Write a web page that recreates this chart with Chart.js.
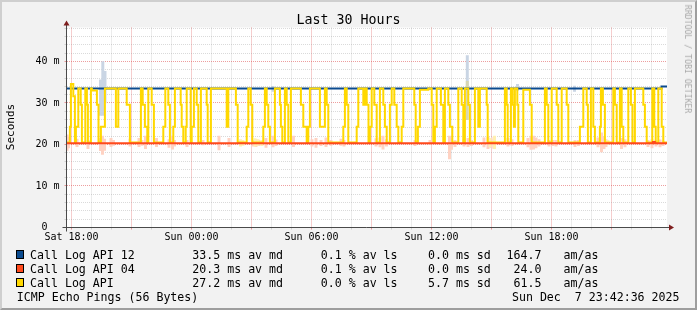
<!DOCTYPE html>
<html>
<head>
<meta charset="utf-8">
<script src="https://cdn.jsdelivr.net/npm/chart.js@4/dist/chart.umd.min.js"></script>
<style>
  html,body{margin:0;padding:0;background:#f2f2f2;}
  #frame{position:absolute;left:0;top:0;width:697px;height:310px;box-sizing:border-box;
    border-style:solid;border-width:2px;border-color:#cfcfcf #9e9e9e #9e9e9e #cfcfcf;background:#f2f2f2;}
  #c{position:absolute;left:0;top:0;}
  .t{position:absolute;font-family:'DejaVu Sans Mono',monospace;color:#000;white-space:pre;line-height:14px;}
  .lg{font-size:11.6px;}
  .sw{position:absolute;width:8px;height:9px;box-sizing:border-box;border:1px solid #000;}
</style>
</head>
<body>
<div id="frame"></div>
<canvas id="c" width="697" height="310"></canvas>
<div id="overlay"></div>
<script>
// ---------- data ----------
const titleText = 'Last 30 Hours';
const yAxisTitle = 'Seconds';
const watermark = 'RRDTOOL / TOBI OETIKER';
// x in hours since Sat 18:00
const xMin = -0.25, xMax = 29.775;
const xLabelHours = [0, 6, 12, 18, 24];
const xLabelTexts = ['Sat 18:00', 'Sun 00:00', 'Sun 06:00', 'Sun 12:00', 'Sun 18:00'];
const yMax = 48.19;
const yLabelValues = [0, 10, 20, 30, 40];
const yLabelTexts = ['0  ', '10 m', '20 m', '30 m', '40 m'];

const seriesNames = ['Call Log API 12', 'Call Log API 04', 'Call Log API'];
const seriesColors = ['#0b4a8e', '#ff4a1c', '#ffd800'];
const medians = ['33.5', '20.3', '27.2'];
const losses = ['0.1', '0.1', '0.0'];
const stddevs = ['0.0', '0.0', '5.7'];
const amas = ['164.7', '24.0', '61.5'];
const footLeft = 'ICMP Echo Pings (56 Bytes)';
const footRight = 'Sun Dec  7 23:42:36 2025';

// median steps [hour, ms]
const blueSteps = [[-0.25, 33.5], [29.5, 34.0], [29.775, 34.0]];
const redSteps = [[-0.25, 20.3], [29.07, 20.6], [29.17, 20.3], [29.775, 20.3]];
const yellowSteps = [
 [-0.25,20.5],[-0.08,24.3],[-0.03,34.6],[0.09,31.6],[0.17,20.5],[0.22,24.3],[0.34,33.5],[0.46,29.6],[0.52,20.5],
 [0.69,33.5],[0.77,29.6],[0.82,20.5],[0.97,33.5],[1.02,33.0],[1.27,29.6],[1.35,20.5],[1.47,24.3],[1.67,33.5],
 [2.22,24.3],[2.34,33.5],[2.76,29.6],[2.92,20.5],[3.47,33.5],[3.56,29.6],[3.67,24.3],[3.79,20.5],[3.84,33.5],
 [4.01,29.6],[4.12,20.5],[4.59,24.3],[4.69,33.5],[4.84,29.6],[4.92,20.5],[5.09,24.3],[5.17,33.5],[5.46,29.6],
 [5.51,24.3],[5.59,20.5],[5.71,24.3],[5.76,33.5],[5.96,20.5],[6.01,24.3],[6.12,33.5],[6.26,29.6],[6.34,20.5],
 [6.47,33.5],[6.76,29.6],[6.81,20.5],[6.97,33.5],[7.76,24.3],[7.84,33.5],[8.22,29.6],[8.31,20.5],[8.76,24.3],
 [8.84,33.5],[8.96,29.6],[9.04,20.5],[9.59,24.3],[9.67,33.5],[9.76,29.6],[9.84,24.3],[9.92,20.5],[10.17,33.5],
 [10.42,29.6],[10.47,24.3],[10.54,20.5],[10.67,33.5],[10.76,29.6],[10.84,20.5],[10.97,33.5],[11.47,29.6],
 [11.59,24.3],[11.76,20.5],[11.84,24.3],[11.92,33.5],[12.42,24.3],[12.67,33.5],[12.76,29.6],[12.84,20.5],
 [13.59,24.3],[13.67,33.5],[13.76,29.6],[13.84,20.5],[14.26,24.3],[14.34,33.5],[14.59,29.6],[14.67,33.5],
 [14.76,29.6],[14.85,20.5],[14.92,24.3],[15.01,33.5],[15.14,29.6],[15.26,20.5],[15.42,33.5],[15.59,29.6],
 [15.67,24.3],[15.76,20.5],[15.92,29.6],[16.01,33.5],[16.14,29.6],[16.26,24.3],[16.34,20.5],[16.51,24.3],
 [16.59,33.5],[17.14,29.6],[17.21,20.5],[17.32,24.3],[17.42,33.2],[17.84,33.5],[18.01,29.6],[18.09,20.5],
 [18.17,24.3],[18.26,33.5],[18.47,29.6],[18.59,20.5],[18.67,33.5],[18.84,29.6],[18.92,24.3],[19.04,20.5],
 [19.34,33.5],[19.51,29.6],[19.59,20.5],[19.67,33.5],[19.84,29.6],[19.92,20.5],[20.17,33.5],[20.34,24.3],
 [20.42,33.5],[20.76,29.6],[20.81,20.5],[21.67,33.5],[21.76,29.6],[21.81,20.5],[21.97,33.5],[22.06,29.6],
 [22.12,24.3],[22.17,33.5],[22.29,29.6],[22.34,20.5],[22.59,33.2],[22.92,29.6],[23.01,20.5],[23.67,33.5],
 [23.76,29.6],[23.84,20.5],[24.01,33.5],[24.26,29.6],[24.34,20.5],[24.51,33.5],[24.76,29.6],[24.84,20.5],
 [25.42,24.3],[25.59,33.5],[25.76,29.6],[25.82,20.5],[25.97,33.5],[26.09,24.3],[26.17,20.5],[26.42,24.3],
 [26.47,33.5],[26.57,29.6],[26.67,20.5],[27.09,33.5],[27.17,29.6],[27.26,20.5],[27.42,33.5],[27.51,24.3],
 [27.59,20.5],[27.84,33.5],[27.97,29.6],[28.05,20.5],[28.17,33.5],[28.59,29.6],[28.67,24.3],[28.76,20.5],
 [29.04,33.5],[29.14,24.3],[29.21,20.5],[29.34,33.5],[29.51,24.3],[29.59,20.5],[29.775,20.5]
];

// smoke [hour, low ms, high ms]
const blueSmoke = [[1.45,27.0,35.6],[1.565,27.0,40.0],[1.675,30.0,37.6],[19.79,33.5,41.4],[10.075,32.8,34.0],[22.3,33.0,34.5],[25.15,32.8,34.1]];
const oliveSmoke = [[19.79,26.0,35.2]];
const yellowSmoke = [[8.45,19.6,21.2],[8.575,19.8,21.0],[9.175,19.6,21.4],[9.325,19.8,21.2],[9.525,19.7,21.0],[20.925,19.5,21.5],[21.15,19.0,22.0],[26.825,20.0,21.0]];
const redSmoke = [
 [-0.22,18.6,22.3],[-0.15,19.2,21.8],[0.275,19.5,21.3],[0.825,19.0,21.0],[1.45,18.5,21.5],[1.55,17.6,22.0],[1.65,18.6,21.3],
 [1.975,19.5,21.5],[2.1,19.8,21.0],[2.925,19.6,21.3],[3.375,19.5,21.5],[3.525,19.8,21.0],[3.7,19.0,22.0],[4.25,19.5,21.5],
 [4.875,19.3,21.2],[5.05,18.9,22.0],[5.15,19.6,21.0],[5.775,19.5,21.0],[6.575,19.9,21.0],[7.375,18.7,22.0],[7.875,19.5,21.5],
 [9.075,19.6,21.0],[9.225,19.5,21.2],[9.375,19.7,21.0],[9.725,19.3,21.5],[10.075,19.4,22.0],[10.225,19.7,21.1],[11.1,19.5,22.0],
 [12.025,19.6,21.2],[12.225,19.3,21.5],[12.475,19.7,21.0],[12.725,19.5,21.6],[12.975,19.8,21.0],[13.475,19.8,21.3],[13.625,19.6,21.0],
 [15.225,19.6,21.4],[15.425,19.4,21.6],[15.575,18.9,22.0],[15.75,19.6,21.2],[17.175,19.7,21.0],[17.925,20.0,21.0],[18.9,16.5,22.0],
 [19.0,18.8,21.5],[19.175,19.5,21.0],[19.625,19.6,21.2],[19.825,19.5,21.5],[20.0,19.7,21.0],[20.625,19.4,21.6],[20.825,19.0,21.8],
 [20.975,19.3,21.3],[21.125,19.0,21.8],[21.825,19.6,21.5],[22.025,19.7,21.2],[22.825,19.4,21.5],[22.975,18.8,22.0],[23.1,18.9,22.0],
 [23.225,19.2,21.6],[23.375,19.6,21.2],[23.875,19.6,21.0],[24.075,19.7,21.0],[24.225,19.6,21.0],[25.175,19.5,21.0],[25.35,19.7,21.0],
 [26.325,19.4,21.6],[26.5,18.2,22.8],[26.625,19.0,21.8],[26.725,19.5,21.2],[27.5,19.0,21.5],[27.675,19.4,21.2],[28.825,19.5,21.0],
 [29.025,19.2,21.2],[29.225,19.6,21.0],[29.425,19.4,21.1],[29.575,19.7,20.9]
];

// ---------- chart ----------
const FONT = "'DejaVu Sans Mono', monospace";
const pts = a => a.map(p => ({x: p[0], y: p[1]}));
const bars = a => a.map(p => ({x: p[0], y: [p[1], p[2]]}));

function lineDs(steps, color, order) {
  return {type: 'line', data: pts(steps), borderColor: color, borderWidth: 2, pointRadius: 0,
    stepped: true, tension: 0, fill: false, order: order, borderCapStyle: 'butt', borderJoinStyle: 'miter'};
}
function smokeDs(a, color) {
  return {type: 'bar', data: bars(a), backgroundColor: color, borderWidth: 0, barThickness: 2.3,
    grouped: false, order: 10};
}

const isMajorX = v => Math.abs(v / 3 - Math.round(v / 3)) < 1e-6;
const isMajorY = v => Math.abs(v / 10 - Math.round(v / 10)) < 1e-6;
const minorCol = 'rgba(140,140,140,0.32)';
const majorCol = 'rgba(222,79,79,0.55)';

const bgPlugin = {
  id: 'bg',
  beforeDraw(chart) {
    const a = chart.chartArea, c = chart.ctx;
    c.save(); c.fillStyle = '#ffffff'; c.fillRect(a.left, a.top, a.right - a.left, a.bottom - a.top); c.restore();
  },
  afterDraw(chart) {
    const a = chart.chartArea, c = chart.ctx;
    const y0 = Math.round(chart.scales.y.getPixelForValue(0) - 0.5) + 0.5;
    const x0 = Math.round(a.left - 0.5) + 0.5;
    c.save();
    c.strokeStyle = '#4a4a4a'; c.lineWidth = 1;
    c.beginPath(); c.moveTo(x0 - 4, y0); c.lineTo(a.right + 4, y0); c.stroke();
    c.beginPath(); c.moveTo(x0, y0 + 4); c.lineTo(x0, a.top - 4); c.stroke();
    c.fillStyle = '#7f1f1f';
    c.beginPath(); c.moveTo(a.right + 2, y0 - 3); c.lineTo(a.right + 2, y0 + 3); c.lineTo(a.right + 7, y0); c.closePath(); c.fill();
    c.beginPath(); c.moveTo(x0 - 3, a.top - 2); c.lineTo(x0 + 3, a.top - 2); c.lineTo(x0, a.top - 7); c.closePath(); c.fill();
    c.restore();
  }
};

new Chart(document.getElementById('c'), {
  type: 'line',
  data: {
    datasets: [
      lineDs(redSteps, seriesColors[1], 1),
      lineDs(yellowSteps, seriesColors[2], 2),
      lineDs(blueSteps, seriesColors[0], 3),
      smokeDs(oliveSmoke, '#d6d6b4'),
      smokeDs(blueSmoke, '#c9d5e4'),
      smokeDs(yellowSmoke, '#fff0b0'),
      smokeDs(redSmoke, '#ffd2c2')
    ]
  },
  options: {
    responsive: false, animation: false, devicePixelRatio: 1,
    layout: {padding: {top: 27.5, right: 30, left: 0, bottom: 0}},
    plugins: {legend: {display: false}, tooltip: {enabled: false}, title: {display: false}},
    scales: {
      x: {
        type: 'linear', min: xMin, max: xMax, offset: false,
        afterFit: s => { s.height = 82.5; },
        ticks: {
          stepSize: 1, includeBounds: false, autoSkip: false, maxRotation: 0, minRotation: 0, padding: 1.5,
          color: '#000', font: {family: FONT, size: 10},
          callback: v => { const i = xLabelHours.indexOf(v); return i >= 0 ? xLabelTexts[i] : ''; }
        },
        grid: {
          offset: false, lineWidth: 1, drawTicks: true, tickLength: 2,
          color: c => isMajorX(c.tick.value) ? majorCol : minorCol,
          tickColor: c => isMajorX(c.tick.value) ? majorCol : minorCol
        },
        border: {display: false, dash: [1, 1]}
      },
      y: {
        type: 'linear', min: 0, max: yMax,
        afterFit: s => { s.width = 66.5; },
        ticks: {
          stepSize: 2, includeBounds: false, autoSkip: false, padding: 5, color: '#000', font: {family: FONT, size: 10},
          callback: v => { const i = yLabelValues.indexOf(v); return i >= 0 ? yLabelTexts[i] : ''; }
        },
        grid: {
          lineWidth: 1, drawTicks: true, tickLength: 2,
          color: c => isMajorY(c.tick.value) ? majorCol : minorCol,
          tickColor: c => isMajorY(c.tick.value) ? majorCol : minorCol
        },
        border: {display: false, dash: [1, 1]}
      }
    }
  },
  plugins: [bgPlugin]
});

// ---------- texts ----------
const ov = document.getElementById('overlay');
function addText(txt, css, cls) {
  const d = document.createElement('div');
  d.className = 't ' + (cls || '');
  d.textContent = txt;
  d.style.cssText += css;
  ov.appendChild(d);
  return d;
}
addText(titleText, 'left:0;width:697px;text-align:center;top:11.5px;font-size:13.3px;line-height:16px;', '');
addText(yAxisTitle, 'left:11px;top:127px;font-size:11px;transform:translate(-50%,-50%) rotate(-90deg);', '');
addText(watermark, 'left:688px;top:59px;font-size:8.2px;color:#a8a8a8;transform:translate(-50%,-50%) rotate(90deg);', '');

const rowTops = [247.5, 261.5, 275.5];
for (let i = 0; i < seriesNames.length; i++) {
  const t = rowTops[i];
  const sw = document.createElement('div');
  sw.className = 'sw'; sw.style.left = '15.5px'; sw.style.top = (t + 2.5) + 'px'; sw.style.background = seriesColors[i];
  ov.appendChild(sw);
  addText(seriesNames[i], 'left:30px;top:' + t + 'px;', 'lg');
  addText(medians[i] + ' ms av md', 'left:192.3px;top:' + t + 'px;', 'lg');
  addText(losses[i] + ' % av ls', 'left:320.8px;top:' + t + 'px;', 'lg');
  addText(stddevs[i] + ' ms sd', 'left:428px;top:' + t + 'px;', 'lg');
  addText(amas[i], 'right:' + (697 - 541.5) + 'px;top:' + t + 'px;text-align:right;', 'lg');
  addText('am/as', 'left:563.5px;top:' + t + 'px;', 'lg');
}
addText(footLeft, 'left:16.8px;top:289.5px;', 'lg');
addText(footRight, 'right:' + (697 - 679.5) + 'px;top:289.5px;text-align:right;', 'lg');
</script>
</body>
</html>
